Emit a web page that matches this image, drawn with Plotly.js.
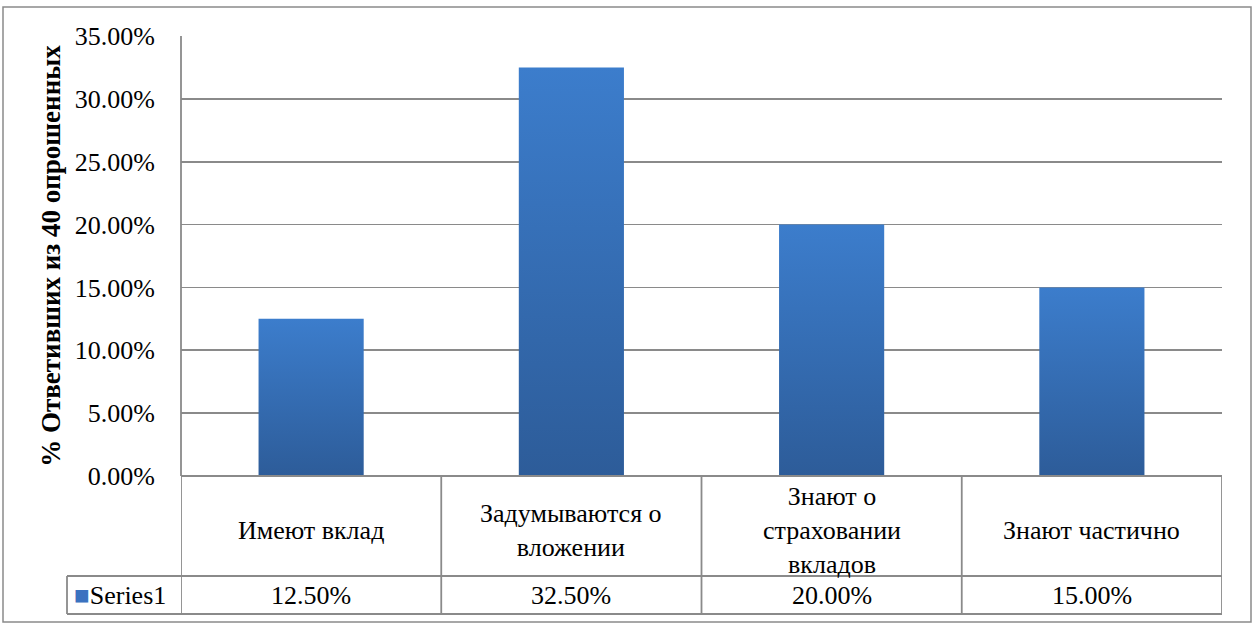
<!DOCTYPE html>
<html>
<head>
<meta charset="utf-8">
<script src="https://cdn.plot.ly/plotly-3.0.1.min.js"></script>
<style>html,body{margin:0;padding:0;background:#fff;}#chart{width:1257px;height:624px;}</style>
</head>
<body>
<div id="chart"></div>
<script>
const categories = ["Имеют вклад", "Задумываются о вложении", "Знают о страховании вкладов", "Знают частично"];
const categoryLabels = ["Имеют вклад", "Задумываются о<br>вложении", "Знают о<br>страховании<br>вкладов", "Знают частично"];
const series1 = [0.125, 0.325, 0.20, 0.15];
const seriesName = "Series1";
const yTickVals = [0, 0.05, 0.10, 0.15, 0.20, 0.25, 0.30, 0.35];

const FONT = "Liberation Serif";
const GRID = "#8a8a8a";
const W = 1041, H = 440, L = 181, T = 36;
const px = x => (x - L) / W;
const py = y => (T + H - y) / H;

const row1Bottom = py(576);
const row2Bottom = py(614);

const shapes = [];
const annotations = [];
const line = {color: GRID, width: 1.8};

shapes.push({type: 'line', xref: 'paper', yref: 'paper', x0: 0, x1: 1, y0: 0, y1: 0, line});
shapes.push({type: 'line', xref: 'paper', yref: 'paper', x0: px(67), x1: 1, y0: row1Bottom, y1: row1Bottom, line});
shapes.push({type: 'line', xref: 'paper', yref: 'paper', x0: px(67), x1: 1, y0: row2Bottom, y1: row2Bottom, line});
shapes.push({type: 'line', xref: 'paper', yref: 'paper', x0: px(67), x1: px(67), y0: row1Bottom, y1: row2Bottom, line});
for (let i = 0; i <= categories.length; i++) {
  shapes.push({type: 'line', xref: 'x', yref: 'paper', x0: i - 0.5, x1: i - 0.5, y0: 0, y1: row2Bottom, line});
}
shapes.push({type: 'line', xref: 'paper', yref: 'paper', x0: 0, x1: 0, y0: 0, y1: 1, line});
shapes.push({type: 'rect', xref: 'paper', yref: 'paper', x0: px(3), x1: px(1251), y0: py(7), y1: py(622), line: {color: GRID, width: 1.5}, fillcolor: 'rgba(0,0,0,0)'});

categories.forEach((c, i) => {
  annotations.push({xref: 'x', yref: 'paper', x: c, y: py(530), text: categoryLabels[i], showarrow: false, font: {family: FONT, size: 26, color: '#000'}, align: 'center', xanchor: 'center', yanchor: 'middle'});
  annotations.push({xref: 'x', yref: 'paper', x: c, y: (row1Bottom + row2Bottom) / 2, text: (series1[i] * 100).toFixed(2) + '%', showarrow: false, font: {family: FONT, size: 26, color: '#000'}, xanchor: 'center', yanchor: 'middle'});
});
annotations.push({xref: 'paper', yref: 'paper', x: px(72), y: (row1Bottom + row2Bottom) / 2, text: '<span style="color:#3a72c0;font-size:26px">■</span>' + seriesName, showarrow: false, font: {family: FONT, size: 26, color: '#000'}, xanchor: 'left', yanchor: 'middle'});

const data = [{
  type: 'bar',
  x: categories,
  y: series1,
  name: seriesName,
  marker: {color: '#3568ae', line: {width: 0}},
  hoverinfo: 'skip'
}];

const layout = {
  width: 1257, height: 624,
  margin: {l: L, r: 1257 - L - W, t: T, b: 624 - T - H, pad: 0},
  paper_bgcolor: '#fff', plot_bgcolor: '#fff',
  showlegend: false,
  bargap: 0.596,
  font: {family: FONT, color: '#000'},
  xaxis: {type: 'category', range: [-0.5, 3.5], showticklabels: false, showgrid: false, zeroline: false, showline: false, ticks: '', fixedrange: true},
  yaxis: {
    range: [0, 0.35], tickvals: yTickVals, tickformat: '.2%',
    showgrid: true, gridcolor: GRID, gridwidth: 1.8, zeroline: false, showline: false, ticks: '',
    ticklabelstandoff: 25,
    tickfont: {family: FONT, size: 26, color: '#000'},
    title: {text: '% Ответивших из 40 опрошенных', font: {family: FONT, size: 27, color: '#000', weight: 'bold'}, standoff: 6},
    fixedrange: true
  },
  shapes, annotations
};

Plotly.newPlot('chart', data, layout, {staticPlot: true}).then(() => {
  const svg = document.querySelector('#chart svg.main-svg');
  const ns = 'http://www.w3.org/2000/svg';
  let defs = svg.querySelector('defs');
  if (!defs) { defs = document.createElementNS(ns, 'defs'); svg.insertBefore(defs, svg.firstChild); }
  const grad = document.createElementNS(ns, 'linearGradient');
  grad.setAttribute('id', 'barGrad');
  grad.setAttribute('x1', '0'); grad.setAttribute('y1', '0');
  grad.setAttribute('x2', '0'); grad.setAttribute('y2', '1');
  [['0', '#3c7dcc'], ['1', '#2d5c99']].forEach(([o, c]) => {
    const s = document.createElementNS(ns, 'stop');
    s.setAttribute('offset', o); s.setAttribute('stop-color', c);
    grad.appendChild(s);
  });
  defs.appendChild(grad);
  document.querySelectorAll('#chart .bars .point path').forEach(p => {
    p.style.fill = 'url(#barGrad)';
  });
});
</script>
</body>
</html>
